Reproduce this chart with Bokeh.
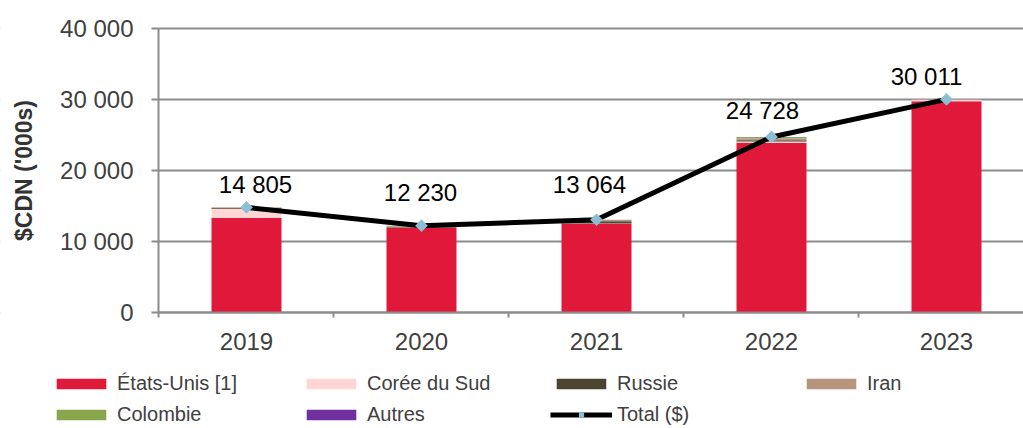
from bokeh.plotting import figure
from bokeh.models import (ColumnDataSource, Range1d, FixedTicker, Legend, LegendItem,
                          BoxAnnotation)
from bokeh.core.properties import value
from bokeh.embed import file_html
from bokeh.resources import INLINE

# ---- data ----
years = ["2019", "2020", "2021", "2022", "2023"]
etats_unis = [13300, 11950, 12500, 23900, 29750]
coree_du_sud = [1300, 30, 50, 200, 200]
russie = [150, 100, 300, 150, 0]
iran = [50, 50, 200, 250, 50]
colombie = [5, 100, 14, 180, 11]
autres = [0, 0, 0, 48, 0]
total = [14805, 12230, 13064, 24728, 30011]
total_labels = ["14 805", "12 230", "13 064", "24 728", "30 011"]
y_ticks = [0, 10000, 20000, 30000, 40000]
y_tick_labels = ["0", "10 000", "20 000", "30 000", "40 000"]
series_names = ["États-Unis [1]", "Corée du Sud", "Russie", "Iran", "Colombie", "Autres"]
total_name = "Total ($)"

# ---- styles / layout ----
colors = ["#E0193A", "#FFD5D5", "#4B4430", "#B8937E", "#8AA64C", "#7030A0"]
label_x_offsets = [9, -1, -7, -9, -20]
label_y_offsets = [-9, -20, -22, -13, -9]
FONT = "Liberation Sans"
GRID = "#8C8C8C"
TXT = "#404040"
MARK = "#8CBFD4"
X_LO, X_HI = -1.4057, 4.44       # visible x extent (whole canvas)
X_AXIS = -0.50286                 # where the value axis stands
Y_LO, Y_HI = -16338, 43944        # visible y extent (whole canvas)
Y_MAX = 40000

xs = list(range(len(years)))
keys = ["us", "kr", "ru", "ir", "co", "au"]
src = ColumnDataSource(dict(x=xs, us=etats_unis, kr=coree_du_sud, ru=russie,
                            ir=iran, co=colombie, au=autres, total=total,
                            lab=total_labels, xo=label_x_offsets, yo=label_y_offsets))

p = figure(width=1023, height=428, min_border=0,
           x_range=Range1d(X_LO, X_HI), y_range=Range1d(Y_LO, Y_HI),
           output_backend="svg", toolbar_location=None, tools="")
p.outline_line_color = None
p.background_fill_color = "white"

# grid, masked left of the value axis
p.xgrid.grid_line_color = None
p.ygrid.grid_line_color = GRID
p.ygrid.grid_line_width = 2
p.ygrid.ticker = FixedTicker(ticks=y_ticks)
p.add_layout(BoxAnnotation(left=X_LO - 1, right=X_AXIS, bottom=Y_LO - 1000, top=Y_HI + 1000,
                           fill_color="white", fill_alpha=1,
                           line_color=None, level="underlay"))

bars = p.vbar_stack(keys, x="x", width=0.4, source=src, color=colors, line_color=None)
ln = p.line(x="x", y="total", source=src, line_color="black", line_width=5)
mk = p.scatter(x="x", y="total", source=src, marker="square", size=9, angle=0.785398,
               fill_color=MARK, line_color=None)
p.text(x="x", y="total", text="lab", source=src, x_offset="xo", y_offset="yo",
       text_align="center", text_baseline="bottom", text_color="black",
       text_font=value(FONT), text_font_size="24px")

yax = p.yaxis[0]
yax.fixed_location = X_AXIS
yax.bounds = (0, Y_MAX)
yax.ticker = FixedTicker(ticks=y_ticks)
yax.major_label_overrides = {t: l for t, l in zip(y_ticks, y_tick_labels)}
yax.axis_line_color = GRID
yax.axis_line_width = 2
yax.major_tick_line_color = GRID
yax.major_tick_line_width = 2
yax.major_tick_out = 7
yax.major_tick_in = 0
yax.minor_tick_line_color = None
yax.major_label_standoff = 18
yax.major_label_text_font = FONT
yax.major_label_text_font_size = "24px"
yax.major_label_text_color = TXT
yax.axis_label = "$CDN ('000s)"
yax.axis_label_text_font = FONT
yax.axis_label_text_font_size = "23px"
yax.axis_label_text_font_style = "bold"
yax.axis_label_text_color = "#333333"
yax.axis_label_standoff = 20

xax = p.xaxis[0]
xax.fixed_location = 0
xax.bounds = (X_AXIS, X_HI)
xax.ticker = FixedTicker(ticks=xs, minor_ticks=[i - 0.5 for i in xs])
xax.major_label_overrides = {i: y for i, y in zip(xs, years)}
xax.axis_line_color = GRID
xax.axis_line_width = 2
xax.major_tick_line_color = None
xax.major_tick_out = 0
xax.major_tick_in = 0
xax.minor_tick_line_color = GRID
xax.minor_tick_line_width = 2
xax.minor_tick_out = 5
xax.minor_tick_in = 0
xax.major_label_standoff = 15
xax.major_label_text_font = FONT
xax.major_label_text_font_size = "24px"
xax.major_label_text_color = TXT

items = [LegendItem(label=n, renderers=[r]) for n, r in zip(series_names, bars)]
items.append(LegendItem(label=total_name, renderers=[ln, mk]))
legend = Legend(items=items, location=(50, 2), orientation="horizontal", ncols=4,
                glyph_width=62, glyph_height=13, label_standoff=5, label_width=175,
                label_height=20, spacing=8, padding=0, margin=0,
                border_line_color=None, background_fill_alpha=0,
                label_text_font=FONT, label_text_font_size="20px",
                label_text_color=TXT, label_text_baseline="middle")
p.add_layout(legend, "center")

open("out.html", "w").write(file_html(p, INLINE))
